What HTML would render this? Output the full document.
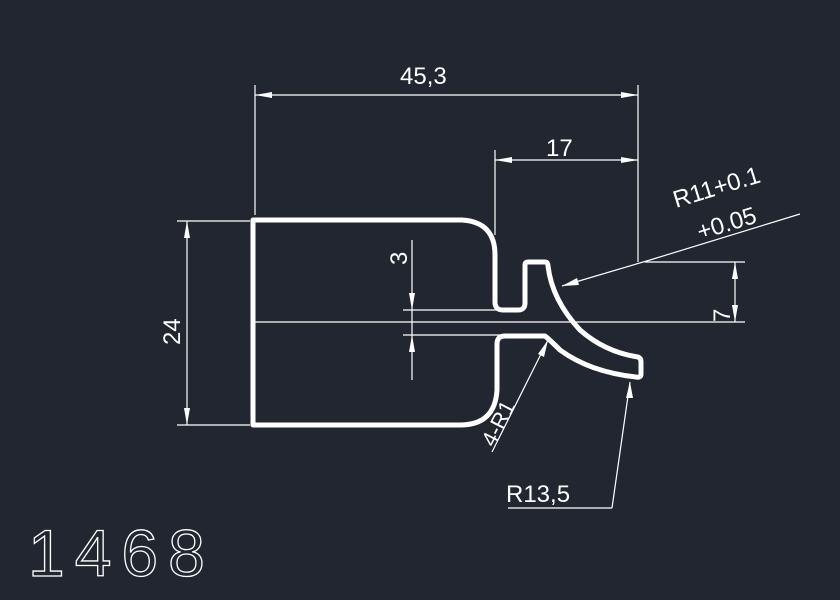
<!DOCTYPE html>
<html><head><style>html,body{margin:0;padding:0;background:#212631}</style></head>
<body>
<svg width="840" height="600" viewBox="0 0 840 600" xmlns="http://www.w3.org/2000/svg" style="display:block">
<rect width="840" height="600" fill="#212631"/>
<g stroke="#fff" stroke-width="1.2" fill="none">
<!-- 45,3 -->
<line x1="255" y1="85" x2="255" y2="215"/>
<line x1="638" y1="85" x2="638" y2="262"/>
<line x1="255" y1="95" x2="638" y2="95"/>
<!-- 17 -->
<line x1="495" y1="150" x2="495" y2="235"/>
<line x1="495" y1="160" x2="638" y2="160"/>
<!-- 24 -->
<line x1="177" y1="221" x2="250" y2="221"/>
<line x1="177" y1="425" x2="250" y2="425"/>
<line x1="187" y1="221" x2="187" y2="425"/>
<!-- 3 -->
<line x1="412" y1="240" x2="412" y2="380"/>
<line x1="403" y1="310" x2="500" y2="310"/>
<line x1="403" y1="335" x2="500" y2="335"/>
<!-- center line -->
<line x1="252" y1="322" x2="745" y2="322"/>
<!-- 7 -->
<line x1="645" y1="262" x2="745" y2="262"/>
<line x1="735" y1="262" x2="735" y2="322"/>
<!-- R11 leader -->
<line x1="562" y1="286" x2="650" y2="260"/>
<line x1="650" y1="260" x2="800" y2="214"/>
<!-- R13,5 leader -->
<line x1="630" y1="382" x2="612" y2="508"/>
<line x1="508" y1="508" x2="612" y2="508"/>
<!-- 4-R1 leader -->
<line x1="548" y1="340" x2="492" y2="452"/>
</g>
<g fill="#fff">
<polygon points="255,95 272,92 272,98"/>
<polygon points="638,95 621,92 621,98"/>
<polygon points="495,160 512,157 512,163"/>
<polygon points="638,160 621,157 621,163"/>
<polygon points="187,221 184,238 190,238"/>
<polygon points="187,425 184,408 190,408"/>
<polygon points="412,310 409,293 415,293"/>
<polygon points="412,335 409,352 415,352"/>
<polygon points="735,262 732,279 738,279"/>
<polygon points="735,322 732,305 738,305"/>
<polygon points="562,286 577,278 579,285"/>
<polygon points="630,382 626,398 633,398"/>
<polygon points="548,340 538,354 544,357"/>
</g>
<!-- profile -->
<path d="M253,220 L462,220 Q495,222 495,255 L495,302 Q495,310 503,310 L518,310 Q525,310 525,303 L525,265 Q525,262 528,262 L545,262 Q548,262 548,266 Q552,300 580,330 Q605,352 638,357 Q641,358 641,362 L641,374 Q641,378 636,377 Q590,372 560,350 Q550,340 545,336 L505,336 Q497,336 497,344 L497,390 Q495,425 460,425 L253,425 Z" fill="none" stroke="#fff" stroke-width="5" stroke-linejoin="round"/>
<g fill="#fff" font-family="Liberation Sans, sans-serif" font-size="24">
<text x="400" y="84">45,3</text>
<text x="546" y="156">17</text>
<text transform="translate(180,345) rotate(-90)">24</text>
<text transform="translate(407,265) rotate(-90)">3</text>
<text transform="translate(730,322) rotate(-90)">7</text>
<text transform="translate(676,208) rotate(-17)">R11+0.1</text>
<text transform="translate(700,240) rotate(-17)">+0.05</text>
<text x="506" y="502">R13,5</text>
<text transform="translate(494,448) rotate(-63)" font-size="22">4-R1</text>
</g>
<text x="28" y="576" font-family="Liberation Sans, sans-serif" font-size="66" fill="none" stroke="#fff" stroke-width="1.3" letter-spacing="10">1468</text>
</svg>
</body></html>
